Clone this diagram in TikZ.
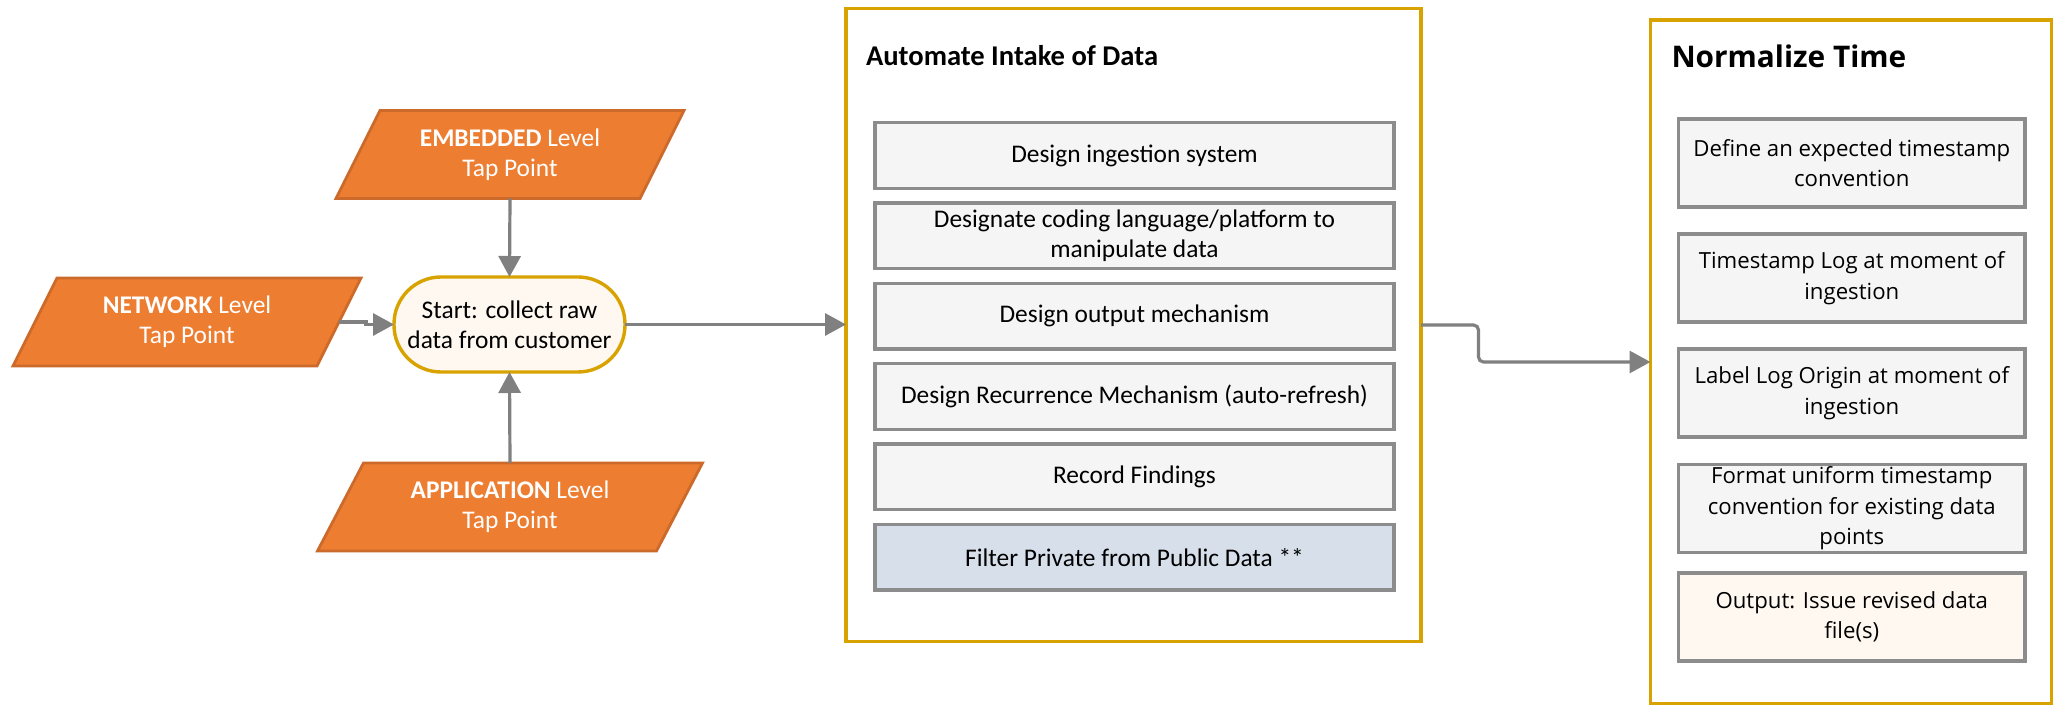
\documentclass[tikz,border=0pt]{standalone}
\usepackage{fontspec}
\setmainfont{Carlito}
\newfontfamily\segfont{Open Sans}
\usetikzlibrary{arrows.meta,calc}
\newlength\opx \setlength\opx{0.5pt}
\definecolor{orangeF}{HTML}{ED7D31}
\definecolor{orangeD}{HTML}{CC6A2C}
\definecolor{gold}{HTML}{D8A300}
\definecolor{startF}{HTML}{FEF8F0}
\definecolor{boxF}{HTML}{F5F5F5}
\definecolor{boxD}{HTML}{8C8C8C}
\definecolor{blueF}{HTML}{D6DFEA}
\definecolor{creamF}{HTML}{FEF8F0}
\definecolor{arrowgray}{HTML}{808080}
\newcommand\bodyf{\fontsize{12.7}{15}\selectfont}
\newcommand\titlef{\fontsize{14.3}{17}\selectfont\bfseries}
\newcommand\segbody{\segfont\fontsize{11.1}{15.3}\selectfont}
\newcommand\segtitle{\segfont\fontsize{14.9}{18}\selectfont\bfseries}
% parallelogram around a centre coordinate: #1 centre, #2 half edge, #3 half slant
\newcommand\pgram[3]{\filldraw[paraline] ($(#1)+({-#2+#3},-44)$) -- ($(#1)+({#2+#3},-44)$) -- ($(#1)+({#2-#3},44)$) -- ($(#1)+({-#2-#3},44)$) -- cycle;}
\begin{document}
\begin{tikzpicture}[x=0.5pt,y=-0.5pt,
  every node/.style={inner sep=0pt, outer sep=0pt},
  arr/.style={draw=arrowgray, line width=1.6pt, -{Triangle[length=10.5pt,width=11pt]}},
  paraline/.style={fill=orangeF, draw=orangeD, line width=1.4pt},
  paratext/.style={minimum height=88\opx, text=white, align=center, font=\bodyf},
  startbox/.style={rectangle, rounded corners=47\opx, minimum width=231\opx, minimum height=95\opx, fill=startF, draw=gold, line width=1.7pt, align=center, font=\bodyf},
  container/.style={rectangle, draw=gold, line width=1.7pt, fill=white},
  midbox/.style={rectangle, draw=boxD, line width=1.7pt, fill=boxF, minimum width=519\opx, minimum height=65.7\opx, align=center, font=\bodyf},
  rbox/.style={rectangle, draw=boxD, line width=1.7pt, fill=boxF, minimum width=346.5\opx, minimum height=88\opx, align=center, font=\segbody},
]
\useasboundingbox (0,0) rectangle (2057,705);
\clip (0,0) rectangle (2057,705);
\fill[white] (0,0) rectangle (2057,705);

% left group
\coordinate (embc) at (510,154.5);
\coordinate (netc) at (187,322);
\coordinate (appc) at (510,507);
\pgram{embc}{152}{22}
\pgram{netc}{152}{22}
\pgram{appc}{169.5}{23}
\node[paratext, minimum width=304\opx] (emb) at (embc) {\textbf{EMBEDDED} Level\\Tap Point};
\node[paratext, minimum width=304\opx] (net) at (netc) {\textbf{NETWORK} Level\\Tap Point};
\node[paratext, minimum width=339\opx] (app) at (appc) {\textbf{APPLICATION} Level\\Tap Point};
\node[startbox] (start) at (509.5,324.5) {Start: collect raw\\data from customer};

% middle container
\node[container, minimum width=575\opx, minimum height=633.4\opx] (mid) at (1133.5,325) {};
\node[font=\titlef, anchor=west] (midtitle) at (866,56) {Automate Intake of Data};
\node[midbox] (m1) at (1134.5,155.5) {Design ingestion system};
\node[midbox] (m2) at (1134.5,235.8) {Designate coding language/platform to\\manipulate data};
\node[midbox] (m3) at (1134.5,316.2) {Design output mechanism};
\node[midbox] (m4) at (1134.5,396.5) {Design Recurrence Mechanism (auto-refresh)};
\node[midbox] (m5) at (1134.5,476.8) {Record Findings};
\node[midbox, fill=blueF] (m6) at (1134.5,557.2) {Filter Private from Public Data **};

% right container
\node[container, minimum width=401\opx, minimum height=684\opx] (norm) at (1851,362) {};
\node[font=\segtitle, anchor=west] (normtitle) at (1671.5,56) {Normalize Time};
\node[rbox] (r1) at (1851.8,163) {Define an expected timestamp\\convention};
\node[rbox] (r2) at (1851.8,278) {Timestamp Log at moment of\\ingestion};
\node[rbox] (r3) at (1851.8,393) {Label Log Origin at moment of\\ingestion};
\node[rbox] (r4) at (1851.8,508.5) {Format uniform timestamp\\convention for existing data\\points};
\node[rbox, fill=creamF] (r5) at (1851.8,617) {Output: Issue revised data\\file(s)};

% connectors
\draw[arr] (emb.south) -- (start.north);
\draw[arr] (app.north) -- (start.south);
\draw[arr] (net.east) -- ++(27,0) |- (start.west);
\draw[arr] (start.east) -- (start.east -| mid.west);
\draw[arr, rounded corners=5\opx] (mid.east) -- ++(57.5,0) |- (norm.west);
\end{tikzpicture}
\end{document}
